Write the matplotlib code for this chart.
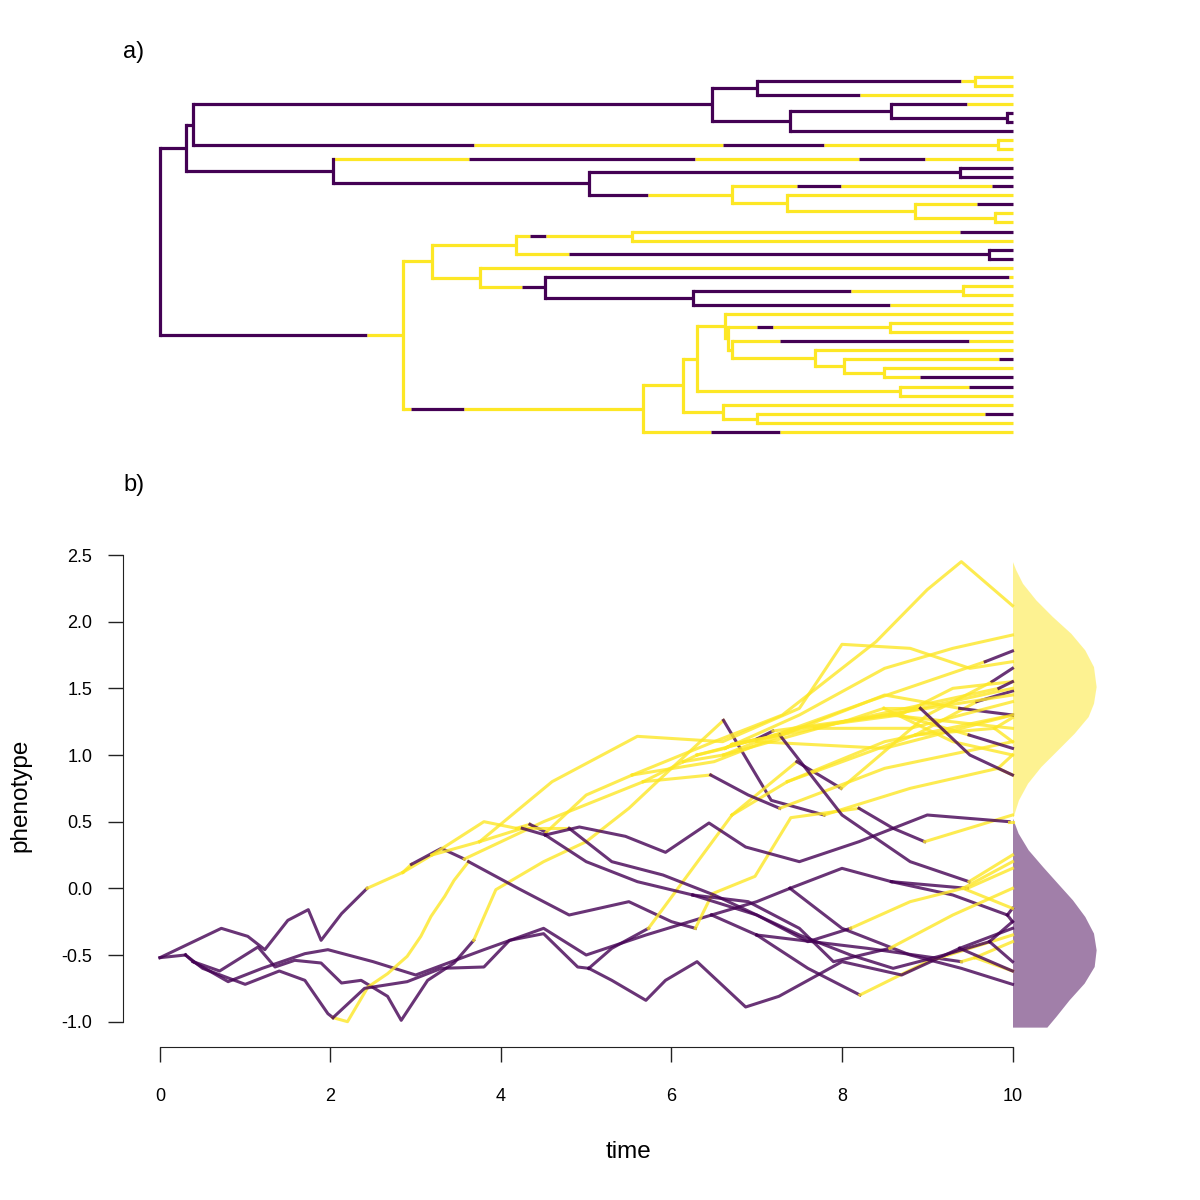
import matplotlib
matplotlib.use("Agg")
import matplotlib.pyplot as plt

plt.rcParams['font.family'] = ['Liberation Sans', 'DejaVu Sans']

PURPLE = '#440154'
YELLOW = '#FDE725'
colour = {'P': PURPLE, 'Y': YELLOW}

# internal nodes: time since root and phenotype value
node_time = {
    'root': 0.0, 'I': 0.30, 'G': 0.39, 'A': 6.47, 'B': 7.00, 'D': 9.56,
    'C': 7.39, 'E': 8.58, 'F': 9.94, 'H': 9.83, 'J': 2.03, 'K': 5.03,
    'L': 9.38, 'M': 6.71, 'N': 7.36, 'O': 8.86, 'P': 9.79, 'Q': 2.85,
    'R': 3.19, 'S': 4.18, 'T': 5.54, 'U': 9.73, 'V': 3.75, 'W': 4.52,
    'X': 6.25, 'Y': 9.42, 'Z': 5.67, 'AA': 6.14, 'AB': 6.61, 'AC': 7.00,
    'AD': 6.30, 'AE': 8.68, 'AF': 6.63, 'AF2': 6.66, 'AG': 8.56,
    'AH': 6.71, 'AI': 7.68, 'AJ': 8.02, 'AK': 8.49,
}
node_value = {
    'root': -0.52, 'I': -0.50, 'G': -0.55, 'A': -0.20, 'B': -0.35, 'D': -0.52,
    'C': 0.00, 'E': 0.05, 'F': -0.20, 'H': 0.90, 'J': -0.97, 'K': -0.60,
    'L': -0.45, 'M': 0.55, 'N': 0.80, 'O': 1.15, 'P': 1.20, 'Q': 0.12,
    'R': 0.25, 'S': 0.45, 'T': 0.85, 'U': -0.40, 'V': 0.35, 'W': 0.40,
    'X': -0.05, 'Y': 0.00, 'Z': 0.80, 'AA': 0.95, 'AB': 1.00, 'AC': 1.10,
    'AD': 1.00, 'AE': 1.30, 'AF': 1.05, 'AF2': 1.06, 'AG': 1.30,
    'AH': 1.08, 'AI': 1.20, 'AJ': 1.25, 'AK': 1.35,
}

# tips t0..t39 (top to bottom), all at time 10
tip_time = 10.0
tip_value = [-0.40, -0.62, -0.35, 0.15, -0.15, -0.25, -0.72, 1.00, 0.85, 0.55,
             -0.30, -0.62, 1.65, 1.30, 1.48, 1.28, 1.10, 1.30, 2.12, -0.55,
             -0.25, 1.70, 0.50, 0.20, -0.15, 0.00, 1.90, 1.50, 1.20, 0.25,
             1.40, 1.55, 1.00, 0.85, 1.05, 1.55, 1.45, 1.78, 1.30, 1.10]

edges = [
    ('root', 'I'), ('root', 'Q'), ('I', 'G'), ('I', 'J'), ('G', 'A'), ('G', 'H'),
    ('A', 'B'), ('A', 'C'), ('B', 'D'), ('B', 't2'), ('D', 't0'), ('D', 't1'),
    ('C', 'E'), ('C', 't6'), ('E', 't3'), ('E', 'F'), ('F', 't4'), ('F', 't5'),
    ('H', 't7'), ('H', 't8'), ('J', 't9'), ('J', 'K'), ('K', 'L'), ('K', 'M'),
    ('L', 't10'), ('L', 't11'), ('M', 't12'), ('M', 'N'), ('N', 't13'), ('N', 'O'),
    ('O', 't14'), ('O', 'P'), ('P', 't15'), ('P', 't16'), ('Q', 'R'), ('Q', 'Z'),
    ('R', 'S'), ('R', 'V'), ('S', 'T'), ('S', 'U'), ('T', 't17'), ('T', 't18'),
    ('U', 't19'), ('U', 't20'), ('V', 't21'), ('V', 'W'), ('W', 't22'), ('W', 'X'),
    ('X', 'Y'), ('X', 't25'), ('Y', 't23'), ('Y', 't24'), ('Z', 'AA'), ('Z', 't39'),
    ('AA', 'AD'), ('AA', 'AB'), ('AB', 't36'), ('AB', 'AC'), ('AC', 't37'),
    ('AC', 't38'), ('AD', 'AF'), ('AD', 'AE'), ('AE', 't34'), ('AE', 't35'),
    ('AF', 't26'), ('AF', 'AF2'), ('AF2', 'AG'), ('AF2', 'AH'), ('AG', 't27'),
    ('AG', 't28'), ('AH', 't29'), ('AH', 'AI'), ('AI', 't30'), ('AI', 'AJ'),
    ('AJ', 't31'), ('AJ', 'AK'), ('AK', 't32'), ('AK', 't33'),
]

# regime history on edges that change state: (end time, state)
regime_shifts = {
    ('root', 'Q'): [(2.43, 'P'), (2.85, 'Y')],
    ('G', 'H'): [(3.68, 'P'), (6.61, 'Y'), (7.79, 'P'), (9.83, 'Y')],
    ('B', 'D'): [(9.40, 'P'), (9.56, 'Y')],
    ('B', 't2'): [(8.21, 'P'), (10, 'Y')],
    ('E', 't3'): [(9.47, 'P'), (10, 'Y')],
    ('J', 't9'): [(3.62, 'Y'), (6.28, 'P'), (8.20, 'Y'), (8.97, 'P'), (10, 'Y')],
    ('K', 'M'): [(5.73, 'P'), (6.71, 'Y')],
    ('M', 't12'): [(7.47, 'Y'), (7.99, 'P'), (9.76, 'Y'), (10, 'P')],
    ('O', 't14'): [(9.58, 'Y'), (10, 'P')],
    ('Q', 'Z'): [(2.95, 'Y'), (3.57, 'P'), (5.67, 'Y')],
    ('S', 'T'): [(4.34, 'Y'), (4.53, 'P'), (5.54, 'Y')],
    ('S', 'U'): [(4.80, 'Y'), (9.73, 'P')],
    ('T', 't17'): [(9.38, 'Y'), (10, 'P')],
    ('V', 'W'): [(4.25, 'Y'), (4.52, 'P')],
    ('W', 't22'): [(9.96, 'P'), (10, 'Y')],
    ('X', 'Y'): [(8.10, 'P'), (9.42, 'Y')],
    ('X', 't25'): [(8.56, 'P'), (10, 'Y')],
    ('Z', 't39'): [(6.46, 'Y'), (7.27, 'P'), (10, 'Y')],
    ('AC', 't37'): [(9.68, 'Y'), (10, 'P')],
    ('AE', 't34'): [(9.49, 'Y'), (10, 'P')],
    ('AF2', 'AG'): [(7.00, 'Y'), (7.19, 'P'), (8.56, 'Y')],
    ('AH', 't29'): [(7.27, 'Y'), (9.49, 'P'), (10, 'Y')],
    ('AJ', 't31'): [(9.84, 'Y'), (10, 'P')],
    ('AK', 't33'): [(8.92, 'Y'), (10, 'P')],
}
purple_edges = [('root', 'I'), ('I', 'G'), ('I', 'J'), ('G', 'A'), ('A', 'B'),
                ('A', 'C'), ('C', 'E'), ('C', 't6'), ('E', 'F'), ('F', 't4'),
                ('F', 't5'), ('J', 'K'), ('K', 'L'), ('L', 't10'), ('L', 't11'),
                ('U', 't19'), ('U', 't20'), ('W', 'X')]

# phenotype waypoints (time, value) inside edges
waypoints = {
    ('root', 'Q'): [(0.72, -0.30), (1.03, -0.36), (1.23, -0.46), (1.50, -0.24),
                    (1.74, -0.16), (1.89, -0.39), (2.13, -0.19), (2.43, 0.00)],
    ('I', 'J'): [(0.5, -0.60), (1.0, -0.72), (1.4, -0.62), (1.70, -0.69), (1.97, -0.94)],
    ('G', 'A'): [(0.8, -0.70), (1.2, -0.60), (1.70, -0.49), (1.97, -0.46), (2.5, -0.55),
                 (3.0, -0.65), (3.8, -0.46), (4.5, -0.30), (5.0, -0.50), (5.7, -0.35)],
    ('G', 'H'): [(0.7, -0.62), (1.15, -0.44), (1.35, -0.59), (1.58, -0.54), (1.89, -0.56),
                 (2.13, -0.71), (2.36, -0.69), (2.67, -0.81), (2.83, -0.99), (3.14, -0.69),
                 (3.45, -0.56), (3.68, -0.39), (3.94, -0.01), (4.5, 0.20), (5.0, 0.35),
                 (5.5, 0.60), (6.0, 0.90), (6.61, 1.26), (7.17, 0.66), (7.79, 0.55),
                 (8.8, 0.75)],
    ('A', 'C'): [(7.0, -0.10)],
    ('B', 'D'): [(8.3, -0.45), (9.40, -0.55)],
    ('B', 't2'): [(7.6, -0.60), (8.21, -0.80), (9.0, -0.55)],
    ('C', 't6'): [(8.0, -0.30), (8.8, -0.50), (9.4, -0.60)],
    ('C', 'E'): [(8.0, 0.15)],
    ('E', 't3'): [(9.47, 0.00)],
    ('E', 'F'): [(9.3, -0.05)],
    ('J', 't9'): [(2.2, -1.00), (2.44, -0.74), (2.67, -0.64), (2.9, -0.51), (3.06, -0.36),
                  (3.18, -0.21), (3.34, -0.06), (3.45, 0.06), (3.62, 0.20), (4.2, 0.00),
                  (4.8, -0.20), (5.5, -0.10), (6.0, -0.25), (6.28, -0.30), (6.48, -0.04),
                  (6.98, 0.09), (7.4, 0.53), (8.20, 0.60), (8.6, 0.45), (8.97, 0.35)],
    ('J', 'K'): [(2.4, -0.75), (2.9, -0.70), (3.3, -0.60), (3.8, -0.59), (4.1, -0.39),
                 (4.5, -0.34), (4.9, -0.59)],
    ('K', 'L'): [(5.3, -0.69), (5.7, -0.84), (5.93, -0.69), (6.3, -0.55), (6.87, -0.89),
                 (7.26, -0.81), (8.0, -0.55), (8.7, -0.65)],
    ('K', 'M'): [(5.3, -0.45), (5.73, -0.30)],
    ('M', 't12'): [(7.47, 0.95), (7.99, 0.75), (9.0, 1.30), (9.76, 1.55)],
    ('N', 't13'): [(8.5, 1.10)],
    ('O', 't14'): [(9.58, 1.40)],
    ('Q', 'Z'): [(2.95, 0.18), (3.3, 0.30), (3.57, 0.22), (4.5, 0.50)],
    ('R', 'S'): [(3.8, 0.50)],
    ('S', 'T'): [(4.34, 0.48), (4.53, 0.42), (5.0, 0.70)],
    ('T', 't18'): [(6.5, 1.10), (7.3, 1.30), (8.4, 1.85), (9.0, 2.24), (9.4, 2.45)],
    ('T', 't17'): [(6.5, 0.95), (7.5, 1.20), (8.5, 1.45), (9.38, 1.35)],
    ('S', 'U'): [(4.80, 0.45), (5.3, 0.20), (5.9, 0.10), (6.5, -0.05), (7.0, -0.20),
                 (7.5, -0.35), (8.1, -0.50), (8.6, -0.60), (9.2, -0.50)],
    ('V', 't21'): [(4.6, 0.80), (5.6, 1.14), (6.6, 1.10), (7.5, 1.35), (8.0, 1.83),
                   (8.8, 1.80), (9.5, 1.65)],
    ('V', 'W'): [(4.25, 0.45)],
    ('W', 't22'): [(4.92, 0.46), (5.46, 0.39), (5.93, 0.27), (6.44, 0.49), (6.87, 0.31),
                   (7.5, 0.20), (8.2, 0.35), (9.0, 0.55), (9.96, 0.50)],
    ('W', 'X'): [(5.0, 0.20), (5.6, 0.05)],
    ('X', 'Y'): [(7.0, -0.20), (7.6, -0.40), (8.10, -0.30), (8.8, -0.10)],
    ('X', 't25'): [(6.9, -0.10), (7.5, -0.30), (7.9, -0.55), (8.56, -0.45), (9.3, -0.20)],
    ('Z', 't39'): [(6.46, 0.85), (6.9, 0.70), (7.27, 0.60), (8.5, 0.90)],
    ('AB', 't36'): [(8.0, 1.25)],
    ('AC', 't37'): [(8.3, 1.40), (9.68, 1.70)],
    ('AC', 't38'): [(8.5, 1.05)],
    ('AD', 'AE'): [(7.5, 1.20)],
    ('AE', 't34'): [(9.49, 1.15)],
    ('AE', 't35'): [(9.3, 1.50)],
    ('AF', 't26'): [(7.5, 1.30), (8.5, 1.65), (9.3, 1.80)],
    ('AF2', 'AG'): [(7.00, 1.12), (7.19, 1.18)],
    ('AH', 't29'): [(7.27, 1.15), (8.0, 0.55), (8.8, 0.20), (9.49, 0.05)],
    ('AI', 't30'): [(8.8, 1.20)],
    ('AJ', 't31'): [(9.84, 1.50)],
    ('AK', 't32'): [(9.3, 1.10)],
    ('AK', 't33'): [(8.92, 1.35), (9.5, 1.00)],
}

# density of tip values per regime (value, width in time units)
yellow_dens_v = [2.450, 2.388, 2.288, 2.163, 2.038, 1.913, 1.788, 1.663, 1.513,
                 1.388, 1.288, 1.163, 1.038, 0.913, 0.788, 0.663, 0.538]
yellow_dens_w = [0.0, 0.039, 0.117, 0.274, 0.469, 0.684, 0.848, 0.950, 0.981,
                 0.950, 0.887, 0.723, 0.528, 0.332, 0.176, 0.070, 0.008]
purple_dens_v = [0.526, 0.414, 0.289, 0.164, 0.039, -0.086, -0.211, -0.336,
                 -0.461, -0.586, -0.711, -0.836, -0.961, -1.041]
purple_dens_w = [0.0, 0.066, 0.184, 0.352, 0.527, 0.703, 0.848, 0.950, 0.981,
                 0.958, 0.840, 0.664, 0.508, 0.403]

y_ticks = [-1.0, -0.5, 0.0, 0.5, 1.0, 1.5, 2.0, 2.5]
y_tick_labels = ['-1.0', '-0.5', '0.0', '0.5', '1.0', '1.5', '2.0', '2.5']
x_ticks = [0, 2, 4, 6, 8, 10]


def is_tip(n):
    return n.startswith('t')


def t_of(n):
    return tip_time if is_tip(n) else node_time[n]


def v_of(n):
    return tip_value[int(n[1:])] if is_tip(n) else node_value[n]


def shifts(e):
    if e in regime_shifts:
        return regime_shifts[e]
    st = 'P' if e in purple_edges else 'Y'
    return [(t_of(e[1]), st)]


children = {}
for p, c in edges:
    children.setdefault(p, []).append(c)

ypos = {}


def get_y(n):
    if n not in ypos:
        ypos[n] = float(n[1:]) if is_tip(n) else sum(get_y(c) for c in children[n]) / len(children[n])
    return ypos[n]


get_y('root')
end_state = {'root': 'P'}
for e in edges:
    end_state[e[1]] = shifts(e)[-1][1]

fig = plt.figure(figsize=(12, 12), dpi=100)
xlim = (-0.4392, 11.4192)

# ---- a) tree with mapped regimes
ax1 = fig.add_axes([122.5 / 1200, 0.625, 1011 / 1200, 390 / 1200])
for p, c in edges:
    start = t_of(p)
    for end, st in shifts((p, c)):
        ax1.plot([start, end], [ypos[c], ypos[c]], color=colour[st], lw=2.3,
                 solid_capstyle='butt')
        start = end
for n, kids in children.items():
    ys = [ypos[k] for k in kids]
    ax1.plot([t_of(n), t_of(n)], [min(ys), max(ys)], color=colour[end_state[n]],
             lw=2.3, solid_capstyle='projecting')
ax1.set_xlim(xlim)
ax1.set_ylim(40.95, -1.81)
ax1.axis('off')

# ---- b) phenogram
ax2 = fig.add_axes([122.5 / 1200, 0.1275, 1011 / 1200, 0.42])
for p, c in edges:
    pts = [(t_of(p), v_of(p))] + waypoints.get((p, c), []) + [(t_of(c), v_of(c))]
    sh = shifts((p, c))

    def state_at(t):
        for end, st in sh:
            if t <= end:
                return st
        return sh[-1][1]

    run = [pts[0]]
    cur = state_at((pts[0][0] + pts[1][0]) / 2)
    for a, b in zip(pts[:-1], pts[1:]):
        st = state_at((a[0] + b[0]) / 2)
        if st != cur:
            ax2.plot([q[0] for q in run], [q[1] for q in run], color=colour[cur],
                     lw=2.2, alpha=0.8, solid_joinstyle='round')
            run = [a]
            cur = st
        run.append(b)
    ax2.plot([q[0] for q in run], [q[1] for q in run], color=colour[cur],
             lw=2.2, alpha=0.8, solid_joinstyle='round')

ax2.fill_betweenx(yellow_dens_v, tip_time, [tip_time + w for w in yellow_dens_w],
                  color=YELLOW, alpha=0.5, lw=0)
ax2.fill_betweenx(purple_dens_v, tip_time, [tip_time + w for w in purple_dens_w],
                  color=PURPLE, alpha=0.5, lw=0)

ax2.set_xlim(xlim)
ax2.set_ylim(-1.19, 2.59)
for s in ['top', 'right']:
    ax2.spines[s].set_visible(False)
ax2.spines['left'].set_bounds(-1.0, 2.5)
ax2.spines['bottom'].set_bounds(0, 10)
ax2.spines['left'].set_color('#222222')
ax2.spines['bottom'].set_color('#222222')
ax2.set_yticks(y_ticks)
ax2.set_yticklabels(y_tick_labels)
ax2.set_xticks(x_ticks)
ax2.set_xticklabels([str(x) for x in x_ticks])
ax2.tick_params(axis='both', direction='out', length=10.8, width=1.0,
                color='#222222', labelsize=13)
ax2.tick_params(axis='y', pad=11)
ax2.tick_params(axis='x', pad=19)

fig.text(20 / 1200, 1 - 795 / 1200, 'phenotype', rotation=90, ha='center',
         va='center', fontsize=17.5)
fig.text(628 / 1200, 1 - 1152 / 1200, 'time', ha='center', va='center',
         fontsize=17.5)
fig.text(123 / 1200, 1 - 52 / 1200, 'a)', ha='left', va='center', fontsize=17)
fig.text(123 / 1200, 1 - 485 / 1200, 'b)', ha='left', va='center', fontsize=17)

fig.savefig('out.png', dpi=100)
